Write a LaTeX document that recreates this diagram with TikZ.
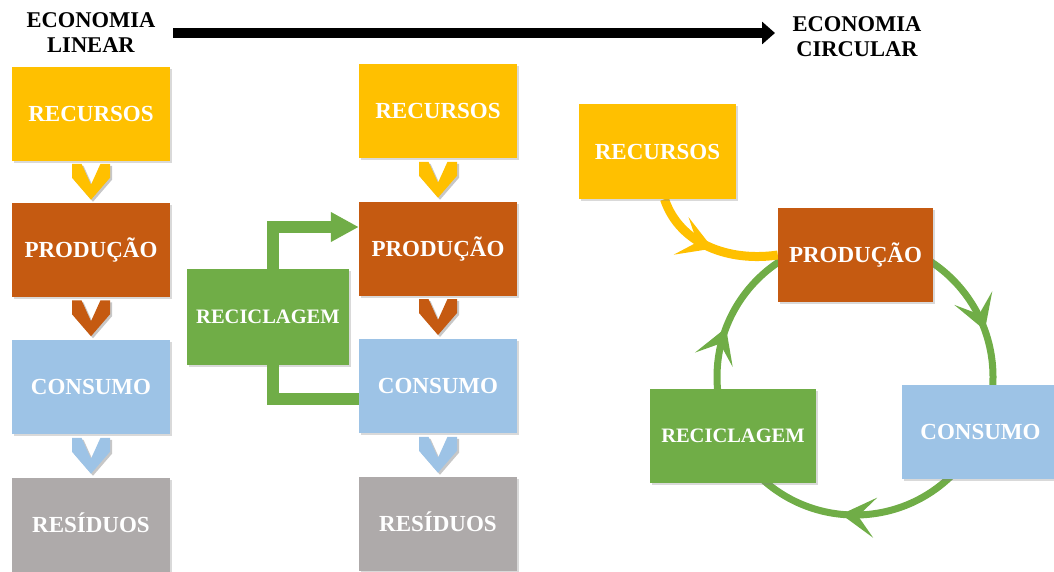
\documentclass[tikz,border=0pt]{standalone}
\usepackage{fontspec}
\setmainfont{Liberation Serif}
\usetikzlibrary{arrows.meta,shadows,decorations.markings,calc}
\definecolor{cY}{HTML}{FFC000}
\definecolor{cB}{HTML}{C55A11}
\definecolor{cL}{HTML}{9DC3E6}
\definecolor{cG}{HTML}{AEAAAA}
\definecolor{cV}{HTML}{70AD47}
\pgfdeclarelayer{bg}
\pgfsetlayers{bg,main}
\tikzset{
  box/.style={rectangle, inner sep=0pt, minimum width=158pt, minimum height=94pt,
    text=white, font=\fontsize{23}{24}\selectfont\bfseries,
    text height=15.2pt, text depth=0pt,
    drop shadow={shadow xshift=2pt, shadow yshift=-2pt, opacity=0.3}},
  recbox/.style={box, fill=cV, font=\fontsize{20.5}{22}\selectfont\bfseries, text height=13.6pt},
  head/.style={align=center, inner sep=0pt, font=\fontsize{22.5}{25}\selectfont\bfseries},
  chev/.pic={
    \fill[black, opacity=0.22, shift={(2,2)}] (-19,-18) -- (-9.5,-18) -- (0,3) -- (9.5,-18) -- (19,-18) -- (19,-4) -- (0,18) -- (-19,-4) -- cycle;
    \path[pic actions] (-19,-18) -- (-9.5,-18) -- (0,3) -- (9.5,-18) -- (19,-18) -- (19,-4) -- (0,18) -- (-19,-4) -- cycle;
  },
  cbarb/.tip={Stealth[length=34pt, width=40pt, inset=17pt]},
  greenline/.style={draw=cV, line width=7pt},
  yellowline/.style={draw=cY, line width=9pt},
  bentarrow/.style={draw=cV, line width=12pt}
}
\begin{document}
\begin{tikzpicture}[x=1pt, y=-1pt]
\useasboundingbox (0,0) rectangle (1054,571);

% headers
\node[head] (hl) at (91,33) {ECONOMIA\\LINEAR};
\node[head] (hc) at (857,36.5) {ECONOMIA\\CIRCULAR};
\coordinate (a0) at (173,33);
\coordinate (a1) at (775,33);
\draw[line width=10pt, -{Triangle[length=13pt, width=22pt]}] (a0) -- (a1);

% column 1: linear economy
\node[box, fill=cY] (rec1)  at (91,113.5) {RECURSOS};
\node[box, fill=cB] (prod1) at (91,250)   {PRODUÇÃO};
\node[box, fill=cL] (cons1) at (91,386.5) {CONSUMO};
\node[box, fill=cG] (res1)  at (91,525)   {RESÍDUOS};
\pic[fill=cY] at ($(rec1.south)!0.5!(prod1.north)$) {chev};
\pic[fill=cB] at ($(prod1.south)!0.5!(cons1.north)$) {chev};
\pic[fill=cL] at ($(cons1.south)!0.5!(res1.north)$) {chev};

% column 2: with recycling
\node[box, fill=cY] (rec2)  at (438,111)   {RECURSOS};
\node[box, fill=cB] (prod2) at (438,248.5) {PRODUÇÃO};
\node[box, fill=cL] (cons2) at (438,385.5) {CONSUMO};
\node[box, fill=cG] (res2)  at (438,524)   {RESÍDUOS};
\node[recbox, minimum width=162pt, minimum height=96pt] (recic2) at (268,317) {RECICLAGEM};
\pic[fill=cY] at ($(rec2.south)!0.5!(prod2.north)$) {chev};
\pic[fill=cB] at ($(prod2.south)!0.5!(cons2.north)$) {chev};
\pic[fill=cL] at ($(cons2.south)!0.5!(res2.north)$) {chev};
\draw[bentarrow, -{Triangle[length=28pt, width=28pt]}]
  ([xshift=4.5pt]recic2.north) |- ([yshift=21.5pt]prod2.west);
\draw[bentarrow] ([xshift=4.5pt]recic2.south) |- ([yshift=-13.5pt]cons2.west);

% circular economy
\node[box, fill=cY, minimum width=157pt, minimum height=95pt] (rec3) at (657.5,151.5) {RECURSOS};
\node[box, fill=cB, minimum width=155pt] (prod3) at (855.5,255) {PRODUÇÃO};
\node[box, fill=cL, minimum width=157pt] (cons3) at (980.5,432) {CONSUMO};
\node[recbox, minimum width=166pt] (recic3) at (733,436) {RECICLAGEM};
\coordinate (c0) at (855,377);

\begin{pgfonlayer}{bg}
\draw[greenline, postaction={decorate}, decoration={markings,
    mark=at position 0.195 with {\arrow[cV]{cbarb}},
    mark=at position 0.516 with {\arrow[cV]{cbarb}},
    mark=at position 0.808 with {\arrow[cV]{cbarb}}}]
  (c0) ++(-90:138) arc[start angle=-90, end angle=270, radius=138];
\draw[yellowline, postaction={decorate}, decoration={markings,
    mark=at position 0.52 with {\arrow[cY]{cbarb}}}]
  ([xshift=7pt]rec3.south) .. controls (680,245) and (730,262) .. (prod3.west);
\end{pgfonlayer}
\end{tikzpicture}
\end{document}
